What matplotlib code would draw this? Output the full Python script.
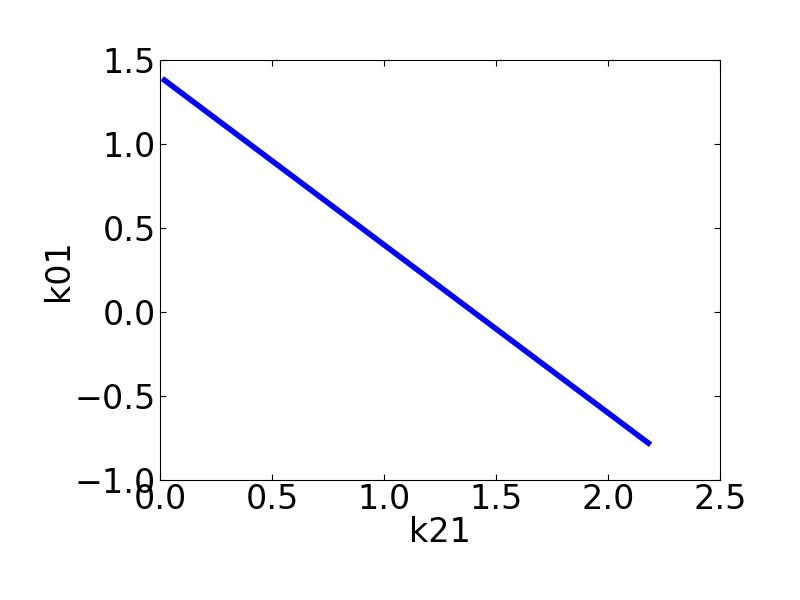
import matplotlib
matplotlib.use("Agg")
import matplotlib.pyplot as plt

k21 = [0.02, 2.18]
k01 = [1.38, -0.78]

fig = plt.figure(figsize=(8, 6), dpi=100)
ax = fig.add_axes([0.2, 0.2, 0.7, 0.7])
ax.plot(k21, k01, color="blue", linewidth=4)
ax.set_xlim(0, 2.5)
ax.set_ylim(-1.0, 1.5)
ax.set_xticks([0.0, 0.5, 1.0, 1.5, 2.0, 2.5])
ax.set_yticks([-1.0, -0.5, 0.0, 0.5, 1.0, 1.5])
ax.tick_params(direction="in", top=True, right=True, length=4, width=0.8,
               labelsize=24)
ax.tick_params(axis="y", pad=3)
ax.tick_params(axis="x", pad=2)
ax.set_xlabel("k21", fontsize=24, labelpad=0)
ax.set_ylabel("k01", fontsize=24, labelpad=0)
fig.savefig("out.png", dpi=100)
